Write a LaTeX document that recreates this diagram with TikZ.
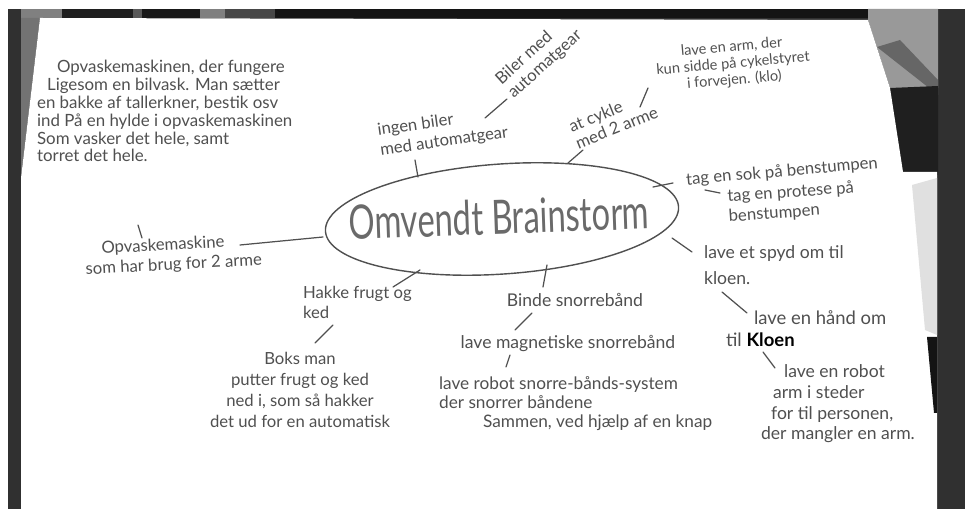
\documentclass[tikz,border=0pt]{standalone}
\usepackage{fontspec}
\setmainfont{Lato}
\usepackage{graphicx}
\usetikzlibrary{shapes.geometric}
\definecolor{pen}{HTML}{505050}
\definecolor{frame}{HTML}{303030}

\tikzset{
    idea/.style={text=pen, font=\fontsize{9.5}{11.4}\selectfont, align=center, inner sep=1pt},
    note/.style={idea, align=left},
    link/.style={draw=pen, line width=0.7pt, line cap=round},
    hub/.style={ellipse, draw=pen, line width=0.8pt, minimum width=7.08cm, minimum height=2.2cm, inner sep=0pt}
}

\begin{document}
\begin{tikzpicture}[x=0.02cm, y=-0.02cm]
    \useasboundingbox (0,0) rectangle (970,509);

    % photo around the sheet
    \fill[white] (0,0) rectangle (970,509);
    \fill[frame] (8,9) rectangle (965,509);
    \fill[black!50] (21,9) rectangle (62,18);
    \fill[black!88] (62,9) rectangle (133,18);
    \fill[black!65] (133,9) rectangle (142,18);
    \fill[black!90] (142,9) rectangle (200,18);
    \fill[black!50] (200,9) rectangle (225,18);
    \fill[black!72] (225,9) rectangle (275,18);
    \fill[black!92] (275,9) rectangle (868,18);
    \fill[black!55] (21,18) -- (40,18) -- (21,178) -- cycle;
    \fill[black!40] (868,9) -- (938,9) -- (938,88) -- (890,88) -- (868,20) -- cycle;
    \fill[black!60] (877,47) -- (900,40) -- (938,80) -- (938,95) -- cycle;
    \fill[black!88] (890,88) -- (938,86) -- (938,175) -- (903,172) -- cycle;

    % the sheet
    \fill[white] (40,18) -- (868,20) -- (890,88) -- (903,172) -- (937,172)
        -- (937,509) -- (21,509) -- (21,178) -- cycle;
    \fill[black!12] (912,185) -- (937,178) -- (937,335) -- (925,330) -- cycle;
    \fill[black!92] (927,337) -- (937,337) -- (937,413) -- (934,413) -- cycle;

    % centre
    \node[hub, rotate=4] (hub) at (502,219) {};
    \node[text=pen!85, rotate=2] (title) at (499,217)
        {\scalebox{1}[1.45]{\fontsize{18.6}{20}\selectfont Omvendt Brainstorm}};

    % ideas
    \node[note, font=\fontsize{9.6}{10.2}\selectfont, anchor=west] (para) at (35,111)
        {\hspace*{0.4cm}Opvaskemaskinen, der fungere\\
         \hspace*{0.2cm}Ligesom en bilvask. Man sætter\\
         en bakke af tallerkner, bestik osv\\
         ind På en hylde i opvaskemaskinen\\
         Som vasker det hele, samt\\
         torret det hele.};
    \node[note, anchor=west, rotate=8] (ingen) at (377,141) {ingen biler\\med automatgear};
    \node[note, anchor=west, rotate=42, font=\fontsize{9.5}{10.4}\selectfont] (biler) at (503,90)
        {Biler med\\automatgear};
    \node[note, anchor=west, rotate=22, font=\fontsize{9.5}{10.4}\selectfont] (cykle) at (571,136)
        {at cykle\\med 2 arme};
    \node[idea, rotate=5, font=\fontsize{8.3}{9.4}\selectfont] (arm) at (733,64)
        {lave en arm, der\\kun sidde på cykelstyret\\i forvejen. (klo)};
    \node[idea, rotate=5] (sok) at (782,172) {tag en sok på benstumpen};
    \node[note, anchor=west, rotate=4] (protese) at (726,207) {tag en protese på\\benstumpen};
    \node[note, anchor=west, rotate=3] (opvask2) at (83,260)
        {\hspace*{0.34cm}Opvaskemaskine\\som har brug for 2 arme};
    \node[note, anchor=west] (hakke) at (301,302) {Hakke frugt og\\ked};
    \node[idea, font=\fontsize{9.5}{12}\selectfont] (boks) at (300,390)
        {Boks man\\putter frugt og ked\\ned i, som så hakker\\det ud for en automatisk};
    \node[idea, font=\fontsize{10}{12}\selectfont] (binde) at (575,300) {Binde snorrebånd};
    \node[idea, font=\fontsize{10}{12}\selectfont] (magnet) at (568,344) {lave magnetiske snorrebånd};
    \node[note, anchor=west, font=\fontsize{9.8}{10.8}\selectfont] (robot) at (437,404)
        {lave robot snorre-bånds-system\\der snorrer båndene\\\hspace*{0.88cm}Sammen, ved hjælp af en knap};
    \node[note, anchor=west, font=\fontsize{10}{12}\selectfont] (spyd) at (702,265)
        {lave et spyd om til\\[3pt]kloen.};
    \node[note, anchor=west, font=\fontsize{10.5}{12.5}\selectfont] (haand) at (724,329)
        {\hspace*{0.56cm}lave en hånd om\\til \textcolor{black}{\textbf{Kloen}}};
    \node[note, anchor=west, font=\fontsize{10}{11.8}\selectfont] (robotarm) at (759,404)
        {\hspace*{0.46cm}lave en robot\\\hspace*{0.24cm}arm i steder\\\hspace*{0.2cm}for til personen,\\der mangler en arm.};

    % strokes
    \draw[link] ([shift={(-84,-42)}]hub.center) -- ([shift={(38,19)}]ingen.west);
    \draw[link] ([shift={(108,-23)}]ingen.west) -- ([shift={(4,9)}]biler.west);
    \draw[link] ([shift={(66,-56)}]hub.center) -- ([shift={(12,14)}]cykle.west);
    \draw[link] ([shift={(69,-29)}]cykle.west) -- ([shift={(-85,24)}]arm.center);
    \draw[link] ([shift={(151,-32)}]hub.center) -- ([shift={(-109,11)}]sok.center);
    \draw[link] ([shift={(-77,18)}]sok.center) -- ([shift={(-6,-14)}]protese.west);
    \draw[link] ([shift={(-179,18)}]hub.center) -- ([shift={(157,-15)}]opvask2.west);
    \draw[link] ([shift={(59,-22)}]opvask2.west) -- ([shift={(103,114)}]para.west);
    \draw[link] ([shift={(-82,51)}]hub.center) -- ([shift={(92,-15)}]hakke.west);
    \draw[link] ([shift={(32,23)}]hakke.west) -- ([shift={(15,-47)}]boks.center);
    \draw[link] ([shift={(45,46)}]hub.center) -- ([shift={(-32,-13)}]binde.center);
    \draw[link] ([shift={(-43,13)}]binde.center) -- ([shift={(-53,-14)}]magnet.center);
    \draw[link] ([shift={(-58,11)}]magnet.center) -- ([shift={(69,-37)}]robot.west);
    \draw[link] ([shift={(170,19)}]hub.center) -- ([shift={(-10,-13)}]spyd.west);
    \draw[link] ([shift={(20,27)}]spyd.west) -- ([shift={(23,-16)}]haand.west);
    \draw[link] ([shift={(39,23)}]haand.west) -- ([shift={(16,-36)}]robotarm.west);
\end{tikzpicture}
\end{document}
